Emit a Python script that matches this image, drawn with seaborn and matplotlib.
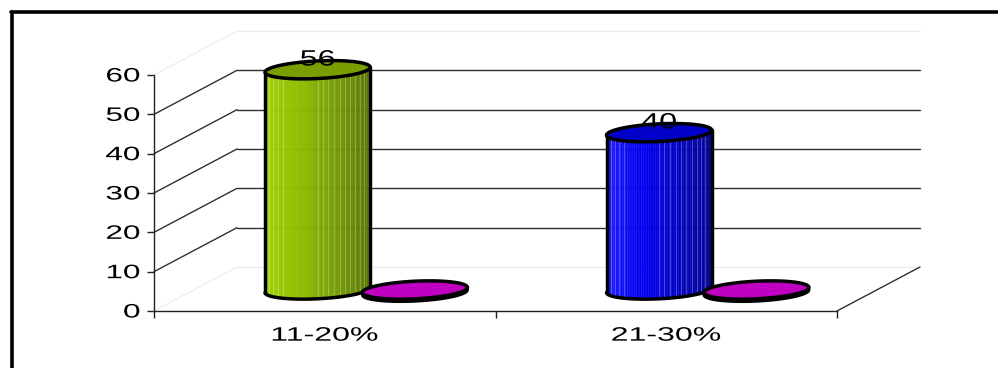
import numpy as np
import pandas as pd
import matplotlib
matplotlib.use("Agg")
import matplotlib.pyplot as plt
import seaborn as sns
from matplotlib.collections import PolyCollection
from matplotlib.patches import Polygon
from matplotlib.lines import Line2D
from matplotlib.colors import to_rgb
from matplotlib.patheffects import AbstractPathEffect
from matplotlib.transforms import Affine2D

# ---- data -------------------------------------------------------------
categories = ["11-20%", "21-30%"]
series_a = [56, 40]
series_b = [0, 0]
y_ticks = [0, 10, 20, 30, 40, 50, 60]

# ---- styling ------------------------------------------------------------
sns.set_theme(style="white")
plt.rcParams["font.family"] = ["Liberation Sans", "DejaVu Sans"]


class WideText(AbstractPathEffect):
    """Draw text glyphs widened horizontally around a chosen anchor."""

    def __init__(self, sx, anchor="center"):
        super().__init__()
        self.sx = sx
        self.anchor = anchor

    def draw_path(self, renderer, gc, tpath, affine, rgbFace=None):
        ext = tpath.get_extents()
        if self.anchor == "right":
            ref = ext.x1
        elif self.anchor == "left":
            ref = ext.x0
        else:
            ref = 0.5 * (ext.x0 + ext.x1)
        widen = Affine2D().translate(-ref, 0).scale(self.sx, 1.0).translate(ref, 0)
        renderer.draw_path(gc, tpath, widen + affine, rgbFace)


df = pd.DataFrame({
    "range": categories * 2,
    "value": series_a + series_b,
    "series": ["A"] * len(categories) + ["B"] * len(categories),
})

W, H = 998, 368
fig = plt.figure(figsize=(W / 100, H / 100), dpi=100)
fig.patch.set_facecolor("white")
AX_L, AX_B, AX_W, AX_H = 154, 57, 683, 236
ax = fig.add_axes([AX_L / W, AX_B / H, AX_W / W, AX_H / H])

sns.barplot(data=df, x="range", y="value", hue="series", order=categories,
            hue_order=["A", "B"], width=0.57, errorbar=None, legend=False,
            palette={"A": "#88b800", "B": "#c000c0"}, ax=ax)
ax.set_xlim(-0.5, 1.5)
ax.set_ylim(0, 60)

# pixel -> data conversion (fixed figure size)
PX_X = AX_W / 2.0      # px per category unit
PX_Y = AX_H / 60.0     # px per value unit

# depth of the pseudo-3D box and of the bar row (half depth)
WALL_DX, WALL_DY = 83 / PX_X, 44 / PX_Y
BAR_DX, BAR_DY = 41.5 / PX_X, 21 / PX_Y

# ---- back wall, floor and side wall -------------------------------------
x0, x1 = -0.5, 1.5
grid_kw = dict(color="#303030", lw=1.0, clip_on=False, zorder=1)
faint_kw = dict(color="#ececec", lw=0.8, clip_on=False, zorder=1)
for v in y_ticks:
    kw = grid_kw if 0 < v < 60 else faint_kw
    ax.plot([x0 + WALL_DX, x1 + WALL_DX], [v + WALL_DY, v + WALL_DY], **kw)
    ax.plot([x0, x0 + WALL_DX], [v, v + WALL_DY], **kw)
ax.plot([x1, x1 + WALL_DX], [0, WALL_DY], **grid_kw)

# ---- cylinders ------------------------------------------------------------
body_cols = {
    (0, 0): ("#a0d000", "#8ab800", "#587600"),
    (0, 1): ("#1818ff", "#0000ec", "#000092"),
    (1, 0): ("#d000d0", "#c000c0", "#700070"),
    (1, 1): ("#d000d0", "#c000c0", "#700070"),
}
top_cols = {(0, 0): "#7a9e00", (0, 1): "#0000c8", (1, 0): "#c000c0", (1, 1): "#c000c0"}
stripe_pos = [0.04, 0.08, 0.12, 0.17, 0.5, 0.55, 0.6, 0.66, 0.71, 0.76, 0.81, 0.86, 0.9, 0.94]

SLOPE = (5.0 / 105.0) * PX_X / PX_Y   # ellipse tilt, right side higher
B_HALF = 8.8 / PX_Y                   # ellipse half height
DIAM = 1.08                           # cylinder diameter relative to bar slot
OUT = dict(color="black", lw=2.5, solid_capstyle="round", clip_on=False)


def gradient(c_left, c_mid, c_right, u):
    l, m, r = (np.array(to_rgb(c)) for c in (c_left, c_mid, c_right))
    if u < 0.4:
        return l + (m - l) * (u / 0.4)
    return m + (r - m) * ((u - 0.4) / 0.6)


def ellipse_pts(cx, cy, a, t):
    return cx + a * np.cos(t), cy + B_HALF * np.sin(t) + SLOPE * a * np.cos(t)


containers = list(ax.containers)
bars = []
for s_idx, cont in enumerate(containers):
    for c_idx, rect in enumerate(cont.patches):
        bars.append((s_idx, c_idx, rect.get_x(), rect.get_width(), rect.get_height()))
for cont in containers:
    for rect in cont.patches:
        rect.set_visible(False)

for s_idx, c_idx, bx, bw, bh in bars:
    z = 3 + s_idx * 2 + c_idx * 0.1
    a = bw * DIAM / 2.0
    cx = bx + bw / 2.0 + BAR_DX
    base = BAR_DY
    top = base + bh
    cl, cm, cr = body_cols[(s_idx, c_idx)]

    if bh > 0:
        n = 60
        xs = np.linspace(cx - a, cx + a, n + 1)
        u = (xs - cx) / a
        yb = base + SLOPE * (xs - cx) - B_HALF * np.sqrt(np.clip(1 - u ** 2, 0, 1))
        yt = top + SLOPE * (xs - cx)
        polys, cols = [], []
        for i in range(n):
            polys.append([(xs[i], yb[i]), (xs[i + 1], yb[i + 1]),
                          (xs[i + 1], yt[i + 1]), (xs[i], yt[i])])
            cols.append(gradient(cl, cm, cr, (i + 0.5) / n))
        pc = PolyCollection(polys, facecolors=cols, edgecolors=cols, linewidths=0.3,
                            zorder=z, clip_on=False)
        ax.add_collection(pc)
        # light vertical stripes
        for p in stripe_pos:
            xp = cx - a + 2 * a * p
            up = (xp - cx) / a
            yb_p = base + SLOPE * (xp - cx) - B_HALF * np.sqrt(max(1 - up ** 2, 0))
            yt_p = top + SLOPE * (xp - cx)
            ax.plot([xp, xp], [yb_p, yt_p], color="white", alpha=0.25, lw=0.8,
                    zorder=z + 0.01, clip_on=False)
        # outline of sides and bottom front arc
        t = np.linspace(np.pi, 2 * np.pi, 80)
        ex, ey = ellipse_pts(cx, base, a, t)
        ax.plot(ex, ey, zorder=z + 0.02, **OUT)
        ax.plot([cx - a, cx - a], [base - SLOPE * a, top - SLOPE * a], zorder=z + 0.02, **OUT)
        ax.plot([cx + a, cx + a], [base + SLOPE * a, top + SLOPE * a], zorder=z + 0.02, **OUT)
    else:
        # flat disc: thin dark rim below the top face
        t = np.linspace(0, 2 * np.pi, 120)
        ex, ey = ellipse_pts(cx, top - 2.5 / PX_Y, a, t)
        ax.add_patch(Polygon(np.column_stack([ex, ey]), closed=True, facecolor="#300030",
                             edgecolor="black", lw=2.0, zorder=z, clip_on=False))

    t = np.linspace(0, 2 * np.pi, 120)
    ex, ey = ellipse_pts(cx, top, a, t)
    ax.add_patch(Polygon(np.column_stack([ex, ey]), closed=True,
                         facecolor=top_cols[(s_idx, c_idx)], edgecolor="black",
                         lw=2.5, zorder=z + 0.03, clip_on=False))

    if bh > 0:
        ax.text(cx, top + 9.7 / PX_Y, f"{bh:g}", ha="center", va="center",
                fontsize=16, color="black", zorder=10, clip_on=False,
                path_effects=[WideText(1.45, "center")])

# ---- axes ------------------------------------------------------------------
ax.patch.set_alpha(0)
for side in ("top", "right"):
    ax.spines[side].set_visible(False)
for side in ("left", "bottom"):
    ax.spines[side].set_visible(True)
    ax.spines[side].set_color("#202020")
    ax.spines[side].set_linewidth(1.0)
    ax.spines[side].set_zorder(2)

ax.set_yticks(y_ticks)
ax.set_yticklabels([str(v) for v in y_ticks])
ax.tick_params(axis="y", left=True, length=5, width=1, color="#202020",
               pad=5, labelsize=14, labelcolor="black")
ax.set_xticks(range(len(categories)))
ax.set_xticklabels(categories)
ax.set_xticks([-0.5, 0.5, 1.5], minor=True)
ax.tick_params(axis="x", which="major", bottom=False, length=0, pad=12,
               labelsize=14, labelcolor="black")
ax.tick_params(axis="x", which="minor", bottom=True, length=5, width=1, color="#202020")
ax.set_xlabel("")
ax.set_ylabel("")

for lab in ax.get_yticklabels():
    lab.set_path_effects([WideText(1.62, "right")])
for lab in ax.get_xticklabels():
    lab.set_path_effects([WideText(1.65, "center")])

# ---- chart frame -------------------------------------------------------------
fig.add_artist(Line2D([11 / W, 1.0], [1 - 12 / H, 1 - 12 / H], transform=fig.transFigure,
                      color="black", lw=2.6))
fig.add_artist(Line2D([12 / W, 12 / W], [0.0, 1 - 12 / H], transform=fig.transFigure,
                      color="black", lw=2.6))

fig.savefig("out.png", dpi=100, facecolor="white")
